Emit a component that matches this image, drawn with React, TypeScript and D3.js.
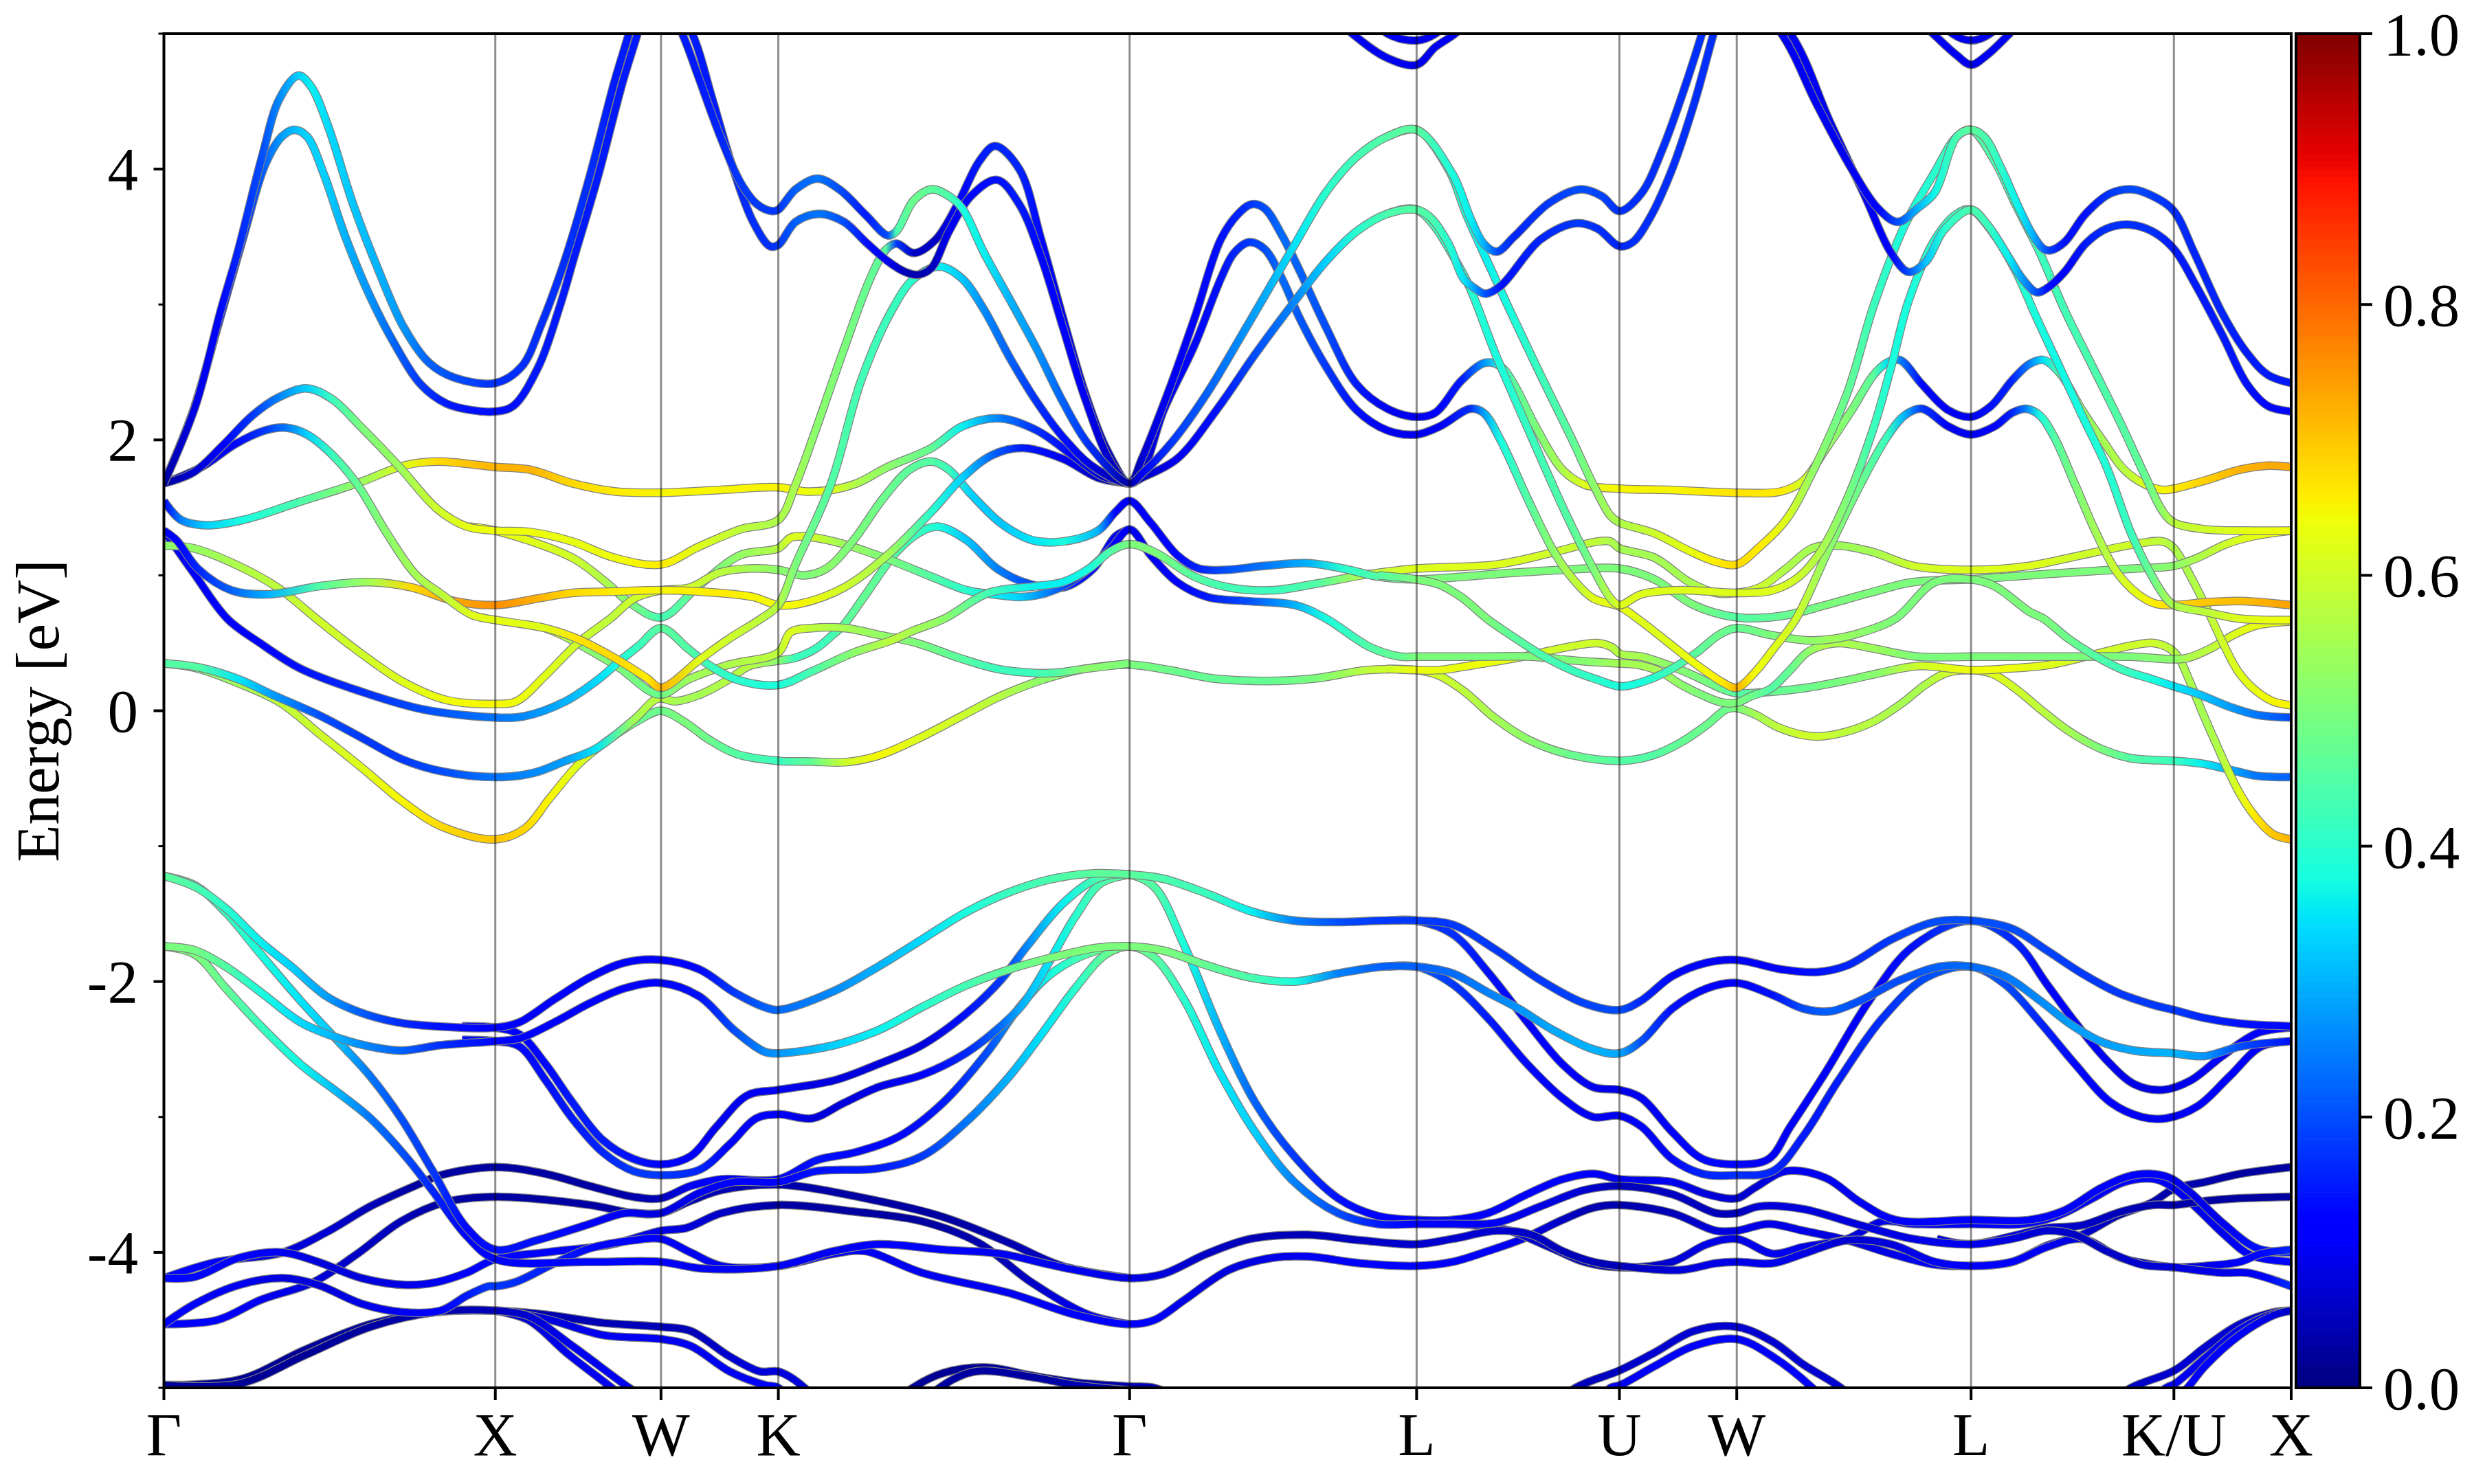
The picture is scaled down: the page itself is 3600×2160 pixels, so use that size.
import * as d3 from "d3";
import * as React from "react";

type P = [number, number, number]; // k, energy [eV], weight

const WIDTH = 3600;
const HEIGHT = 2160;
const MARGIN = { top: 49, left: 238.5, right: 3334, bottom: 2020 };
const FONT = "'Liberation Serif', 'Times New Roman', serif";

const symLabels = ["Γ", "X", "W", "K", "Γ", "L", "U", "W", "L", "K/U", "X"];
const symK = [0, 1, 1.5, 1.854, 2.914, 3.78, 4.392, 4.746, 5.453, 6.065, 6.419];
const energyTicks = [-5, -4, -3, -2, -1, 0, 1, 2, 3, 4, 5];
const colorTicks = [0, 0.2, 0.4, 0.6, 0.8, 1];

// conduction bands, traced left to right
const top1: P[] = [[0,1.68,.03],[.095,2.25,.09],[.172,2.96,.13],[.222,3.38,.16],[.296,4.09,.2],[.349,4.52,.26],[.406,4.69,.33],[.444,4.61,.36],[.495,4.32,.34],[.571,3.74,.32],[.648,3.25,.3],[.724,2.83,.27],[.8,2.57,.22],[.876,2.46,.2],[1,2.42,.17],[1.079,2.54,.17],[1.14,2.86,.17],[1.213,3.35,.17],[1.283,3.93,.17],[1.359,4.64,.15],[1.403,5,.15],[1.46,5.5,.15],[1.564,5,.15],[1.613,4.68,.15],[1.676,4.26,.16],[1.74,3.9,.18],[1.79,3.74,.18],[1.835,3.69,.18],[1.854,3.7,.18],[1.906,3.85,.22],[1.972,3.93,.24],[2.038,3.85,.2],[2.118,3.66,.15],[2.184,3.51,.2],[2.21,3.54,.44],[2.263,3.77,.48],[2.316,3.85,.46],[2.369,3.8,.44],[2.409,3.71,.38],[2.475,3.38,.36],[2.554,3.03,.3],[2.634,2.67,.27],[2.713,2.28,.22],[2.792,1.96,.17],[2.914,1.68,.03],[2.951,1.75,.1],[3.044,1.99,.18],[3.149,2.35,.22],[3.242,2.73,.26],[3.335,3.12,.3],[3.414,3.45,.35],[3.507,3.83,.4],[3.599,4.09,.43],[3.692,4.24,.45],[3.78,4.29,.46],[3.889,3.96,.38],[3.942,3.64,.36],[3.982,3.45,.3],[4.022,3.39,.2],[4.074,3.5,.16],[4.18,3.75,.18],[4.273,3.85,.2],[4.339,3.8,.19],[4.392,3.69,.17],[4.458,3.82,.17],[4.524,4.16,.17],[4.59,4.61,.17],[4.641,5,.17],[4.7,5.5,.1],[4.881,5,.1],[4.987,4.48,.1],[5.093,4,.1],[5.172,3.71,.12],[5.232,3.61,.2],[5.291,3.71,.3],[5.344,3.83,.37],[5.41,4.24,.44],[5.453,4.29,.46],[5.492,4.24,.44],[5.545,4,.4],[5.598,3.71,.36],[5.64,3.51,.3],[5.672,3.41,.22],[5.693,3.4,.18],[5.735,3.46,.14],[5.799,3.67,.14],[5.873,3.82,.18],[5.942,3.85,.2],[6.01,3.79,.18],[6.065,3.69,.17],[6.127,3.38,.16],[6.212,2.93,.16],[6.286,2.64,.15],[6.349,2.48,.15],[6.419,2.42,.15]];
const top2: P[] = [[0,1.68,.03],[.089,2.22,.08],[.165,2.86,.13],[.241,3.51,.17],[.305,4.03,.22],[.356,4.24,.28],[.394,4.29,.31],[.432,4.24,.33],[.483,3.96,.33],[.546,3.51,.3],[.622,3.06,.27],[.698,2.7,.22],[.775,2.41,.18],[.851,2.27,.15],[.927,2.22,.14],[1,2.21,.14],[1.054,2.25,.14],[1.13,2.54,.15],[1.195,2.99,.15],[1.238,3.35,.15],[1.308,3.93,.15],[1.384,4.64,.15],[1.429,5,.15],[1.48,5.45,.15],[1.594,5,.15],[1.651,4.55,.15],[1.714,4.03,.16],[1.778,3.61,.17],[1.829,3.43,.17],[1.854,3.44,.18],[1.906,3.61,.22],[1.979,3.67,.24],[2.052,3.61,.2],[2.118,3.46,.14],[2.184,3.32,.1],[2.237,3.24,.05],[2.276,3.22,.04],[2.316,3.27,.05],[2.369,3.54,.1],[2.435,3.8,.13],[2.514,3.92,.14],[2.581,3.74,.15],[2.647,3.35,.13],[2.713,2.83,.12],[2.779,2.31,.1],[2.858,1.83,.06],[2.914,1.68,.03],[2.951,1.72,.06],[3.057,1.86,.1],[3.176,2.22,.14],[3.295,2.64,.2],[3.414,3.03,.26],[3.507,3.32,.33],[3.599,3.54,.4],[3.692,3.67,.44],[3.78,3.7,.45],[3.823,3.64,.44],[3.876,3.45,.4],[3.922,3.19,.35],[3.955,3.12,.28],[3.988,3.08,.2],[4.035,3.14,.14],[4.154,3.48,.16],[4.26,3.6,.18],[4.326,3.56,.17],[4.392,3.43,.16],[4.432,3.46,.17],[4.484,3.64,.17],[4.551,4,.17],[4.617,4.48,.17],[4.676,5,.17],[4.73,5.45,.1],[4.908,5,.1],[5.027,4.35,.1],[5.133,3.8,.1],[5.212,3.38,.12],[5.265,3.24,.2],[5.318,3.32,.32],[5.371,3.55,.4],[5.453,3.7,.44],[5.502,3.59,.42],[5.566,3.35,.36],[5.608,3.19,.28],[5.651,3.09,.2],[5.682,3.12,.14],[5.735,3.24,.12],[5.799,3.45,.15],[5.862,3.56,.17],[5.931,3.59,.17],[6,3.54,.17],[6.065,3.41,.15],[6.127,3.16,.15],[6.212,2.77,.15],[6.286,2.41,.14],[6.349,2.25,.13],[6.419,2.21,.13]];
const mid1: P[] = [[0,1.68,.03],[.089,1.76,.07],[.178,1.96,.12],[.267,2.18,.18],[.343,2.31,.25],[.432,2.38,.33],[.508,2.3,.42],[.597,2.09,.5],[.711,1.8,.54],[.825,1.49,.6],[.914,1.36,.63],[1,1.33,.64],[1.105,1.32,.64],[1.232,1.25,.63],[1.359,1.13,.64],[1.5,1.08,.66],[1.613,1.21,.62],[1.74,1.34,.58],[1.854,1.41,.56],[1.906,1.67,.55],[1.959,2.02,.52],[2.052,2.67,.5],[2.131,3.19,.47],[2.177,3.4,.46],[2.21,3.45,.18],[2.263,3.38,.06],[2.329,3.48,.06],[2.395,3.74,.12],[2.461,4.06,.15],[2.508,4.17,.16],[2.581,4,.16],[2.647,3.48,.13],[2.713,2.9,.1],[2.779,2.35,.08],[2.845,1.93,.06],[2.914,1.68,.03],[2.951,1.86,.07],[3.03,2.35,.1],[3.11,2.9,.12],[3.189,3.48,.14],[3.242,3.67,.16],[3.282,3.74,.18],[3.321,3.71,.2],[3.374,3.51,.23],[3.427,3.25,.22],[3.507,2.83,.2],[3.599,2.41,.15],[3.692,2.23,.1],[3.78,2.17,.1],[3.836,2.2,.11],[3.916,2.44,.15],[3.988,2.57,.28],[4.035,2.54,.4],[4.074,2.41,.46],[4.141,2.09,.5],[4.22,1.78,.56],[4.286,1.67,.62],[4.392,1.64,.65],[4.551,1.63,.65],[4.746,1.61,.67],[4.881,1.62,.66],[4.947,1.7,.6],[5.014,1.93,.54],[5.093,2.22,.5],[5.159,2.48,.46],[5.199,2.57,.35],[5.238,2.59,.25],[5.305,2.41,.13],[5.384,2.22,.1],[5.453,2.17,.1],[5.513,2.25,.14],[5.577,2.44,.16],[5.629,2.56,.25],[5.672,2.59,.35],[5.725,2.48,.47],[5.788,2.22,.52],[5.852,1.99,.55],[5.915,1.78,.57],[5.979,1.67,.62],[6.032,1.63,.65],[6.065,1.64,.66],[6.159,1.7,.69],[6.264,1.78,.72],[6.349,1.81,.73],[6.419,1.8,.73]];
const mid2: P[] = [[0,1.68,.03],[.114,1.8,.08],[.216,1.97,.13],[.305,2.07,.18],[.368,2.09,.24],[.432,2.04,.33],[.508,1.89,.42],[.584,1.67,.47],[.673,1.31,.52],[.762,1,.55],[.838,.86,.58],[.927,.71,.62],[1,.67,.63],[1.151,.61,.62],[1.249,.53,.67],[1.36,.39,.68],[1.458,.24,.66],[1.5,.17,.72],[1.618,.38,.62],[1.704,.53,.6],[1.802,.68,.58],[1.854,.78,.57],[1.906,1.08,.5],[2.012,1.67,.45],[2.104,2.44,.43],[2.197,2.96,.42],[2.263,3.19,.4],[2.342,3.28,.36],[2.409,3.19,.32],[2.475,2.96,.26],[2.554,2.6,.22],[2.634,2.28,.17],[2.713,2.02,.14],[2.805,1.8,.08],[2.914,1.68,.03],[2.951,1.76,.06],[3.017,2.22,.1],[3.11,2.7,.13],[3.189,3.19,.14],[3.229,3.38,.16],[3.275,3.46,.18],[3.321,3.41,.2],[3.374,3.19,.23],[3.427,2.9,.21],[3.507,2.54,.18],[3.599,2.22,.14],[3.692,2.07,.1],[3.78,2.04,.1],[3.85,2.1,.1],[3.942,2.23,.17],[3.982,2.2,.28],[4.035,1.99,.38],[4.114,1.57,.45],[4.193,1.18,.52],[4.246,.99,.57],[4.313,.83,.62],[4.392,.77,.64],[4.447,.68,.62],[4.536,.51,.62],[4.625,.34,.64],[4.703,.21,.66],[4.746,.17,.72],[4.803,.29,.64],[4.858,.46,.62],[4.925,.68,.6],[5.027,1.21,.52],[5.119,1.67,.48],[5.199,2.02,.42],[5.252,2.18,.3],[5.305,2.23,.18],[5.384,2.1,.1],[5.453,2.04,.1],[5.524,2.1,.12],[5.577,2.2,.16],[5.619,2.23,.25],[5.661,2.18,.38],[5.704,2.02,.45],[5.767,1.67,.5],[5.831,1.31,.55],[5.894,1.02,.6],[5.957,.86,.63],[6.01,.79,.66],[6.065,.78,.68],[6.159,.8,.7],[6.264,.81,.71],[6.419,.78,.74]];
const flat1: P[] = [[0,1.55,.12],[.051,1.41,.25],[.127,1.37,.33],[.241,1.41,.38],[.406,1.54,.44],[.584,1.68,.53],[.724,1.81,.62],[.825,1.84,.68],[1,1.8,.72],[1.105,1.78,.72],[1.232,1.68,.68],[1.359,1.62,.66],[1.5,1.61,.65],[1.676,1.63,.65],[1.854,1.65,.65],[1.932,1.62,.64],[2.012,1.63,.62],[2.091,1.68,.56],[2.184,1.8,.52],[2.316,1.94,.47],[2.409,2.1,.36],[2.521,2.16,.25],[2.634,2.07,.17],[2.739,1.89,.12],[2.832,1.73,.07],[2.914,1.68,.03]];
const flat2: P[] = [[0,1.33,.1],[.038,1.26,.12],[.102,1.05,.16],[.203,.89,.22],[.317,.86,.3],[.47,.92,.45],[.622,.95,.55],[.749,.91,.68],[.876,.81,.73],[1,.78,.76],[1.13,.83,.72],[1.232,.87,.68],[1.359,.88,.66],[1.5,.89,.65],[1.676,.87,.66],[1.778,.84,.65],[1.854,.78,.64],[1.919,.79,.65],[2.052,.91,.6],[2.184,1.15,.55],[2.316,1.47,.4],[2.409,1.72,.33],[2.501,1.89,.22],[2.594,1.94,.15],[2.713,1.86,.1],[2.819,1.72,.06],[2.914,1.68,.03]];
const low1: P[] = [[0,1.22,.52],[.089,1.2,.53],[.216,1.08,.56],[.343,.91,.58],[.47,.66,.6],[.597,.42,.6],[.724,.21,.62],[.851,.08,.64],[1,.05,.65],[1.064,.07,.64],[1.151,.26,.62],[1.249,.5,.6],[1.347,.68,.58],[1.42,.83,.6],[1.5,.89,.62],[1.587,.91,.6],[1.676,1.02,.58],[1.765,1.05,.55],[1.854,1.04,.52],[1.932,1,.5],[1.999,1.05,.52],[2.078,1.25,.5],[2.171,1.57,.48],[2.25,1.78,.46],[2.316,1.84,.45],[2.369,1.78,.42],[2.435,1.6,.33],[2.528,1.38,.32],[2.62,1.26,.35],[2.713,1.25,.38],[2.819,1.33,.3],[2.872,1.47,.12],[2.914,1.55,.1],[2.977,1.39,.12],[3.057,1.15,.13],[3.123,1.05,.16],[3.202,1.04,.2],[3.321,1.07,.24],[3.453,1.09,.3],[3.559,1.05,.4],[3.665,.99,.45],[3.78,.97,.5],[4.022,1.01,.5],[4.22,1.04,.5],[4.392,1.05,.5],[4.498,.97,.5],[4.617,.78,.5],[4.746,.69,.45],[4.881,.7,.47],[5.014,.78,.5],[5.146,.87,.5],[5.278,.95,.5],[5.453,.97,.5],[5.682,1.01,.5],[5.947,1.05,.5],[6.065,1.07,.52],[6.137,1.13,.56],[6.222,1.23,.6],[6.307,1.29,.63],[6.419,1.33,.64]];
const low2: P[] = [[0,1.33,.1],[.089,1.02,.12],[.191,.68,.11],[.29,.5,.12],[.413,.31,.14],[.597,.14,.17],[.782,.01,.2],[1,-.05,.24],[1.089,-.04,.26],[1.212,.07,.3],[1.31,.23,.34],[1.372,.36,.38],[1.433,.48,.42],[1.5,.61,.46],[1.581,.46,.45],[1.643,.34,.42],[1.729,.23,.4],[1.854,.19,.38],[1.955,.29,.44],[2.082,.43,.52],[2.196,.52,.58],[2.26,.59,.55],[2.355,.68,.52],[2.488,.87,.43],[2.634,.92,.36],[2.713,.95,.36],[2.792,1.05,.38],[2.858,1.18,.45],[2.914,1.23,.5],[2.99,1.17,.5],[3.11,.99,.45],[3.215,.91,.43],[3.348,.89,.42],[3.48,.94,.45],[3.639,1.01,.58],[3.78,1.05,.62],[4.022,1.08,.62],[4.193,1.17,.6],[4.326,1.25,.58],[4.365,1.25,.56],[4.392,1.2,.55],[4.498,1.13,.55],[4.603,.95,.55],[4.683,.87,.58],[4.746,.87,.6],[4.815,.91,.6],[4.895,1.05,.56],[4.974,1.2,.55],[5.053,1.22,.54],[5.159,1.17,.55],[5.278,1.07,.6],[5.453,1.04,.62],[5.629,1.07,.62],[5.788,1.15,.6],[5.947,1.23,.6],[6.032,1.25,.58],[6.065,1.2,.56],[6.116,.99,.56],[6.169,.73,.58],[6.211,.51,.6],[6.259,.29,.62],[6.307,.16,.63],[6.363,.07,.65],[6.419,.04,.65]];
const low3: P[] = [[.92,1.36,.63],[1,1.33,.64],[1.232,1.13,.6],[1.333,.95,.56],[1.41,.79,.5],[1.5,.69,.43],[1.613,.92,.48],[1.74,1.15,.53],[1.854,1.2,.57],[1.893,1.28,.62],[1.959,1.28,.6],[2.052,1.23,.54],[2.184,1.12,.5],[2.316,.99,.45],[2.422,.89,.4],[2.501,.86,.36],[2.581,.84,.33],[2.647,.86,.27],[2.713,.92,.2],[2.792,1.05,.13],[2.858,1.2,.12],[2.914,1.34,.1],[2.977,1.15,.1],[3.057,.95,.11],[3.149,.84,.15],[3.268,.81,.2],[3.414,.78,.3],[3.507,.68,.38],[3.639,.47,.45],[3.731,.4,.47],[3.78,.4,.5],[3.958,.4,.5],[4.125,.4,.5],[4.214,.38,.5],[4.314,.36,.52],[4.392,.35,.55],[4.447,.34,.55],[4.514,.29,.55],[4.58,.19,.52],[4.647,.11,.5],[4.703,.06,.5],[4.746,.06,.5],[4.792,.11,.48],[4.847,.16,.45],[4.903,.29,.47],[4.958,.43,.52],[5.003,.48,.56],[5.058,.5,.56],[5.158,.46,.54],[5.292,.4,.5],[5.453,.4,.5],[5.623,.4,.5],[5.796,.4,.5],[5.934,.4,.5],[6.065,.38,.52],[6.107,.39,.56],[6.176,.46,.58],[6.245,.56,.62],[6.314,.63,.63],[6.419,.66,.64]];
const edge1: P[] = [[0,.35,.45],[.105,.32,.45],[.228,.23,.35],[.326,.12,.28],[.474,-.04,.2],[.597,-.2,.18],[.72,-.36,.18],[.843,-.45,.2],[1,-.49,.24],[1.114,-.46,.26],[1.212,-.37,.28],[1.304,-.28,.35],[1.421,-.06,.55],[1.49,.09,.58],[1.544,.07,.55],[1.618,.12,.55],[1.704,.23,.57],[1.766,.33,.57],[1.854,.37,.52],[1.904,.39,.42],[1.968,.46,.42],[2.018,.56,.43],[2.05,.63,.46],[2.118,.86,.47],[2.21,1.17,.45],[2.276,1.31,.42],[2.336,1.36,.38],[2.422,1.26,.32],[2.514,1.05,.25],[2.607,.94,.2],[2.713,.91,.17],[2.805,1.05,.13],[2.872,1.29,.1],[2.914,1.34,.1]];
const edge2: P[] = [[0,.35,.45],[.105,.31,.5],[.228,.2,.55],[.351,.06,.58],[.474,-.18,.6],[.597,-.42,.62],[.72,-.67,.65],[.843,-.86,.68],[1,-.95,.7],[1.089,-.87,.68],[1.163,-.65,.65],[1.249,-.4,.62],[1.317,-.26,.58],[1.433,-.07,.48],[1.5,0,.48],[1.569,-.08,.5],[1.643,-.21,.48],[1.729,-.32,.45],[1.854,-.37,.42],[1.955,-.375,.47],[2.056,-.38,.6],[2.158,-.33,.65],[2.272,-.21,.62],[2.399,-.05,.6],[2.526,.11,.57],[2.653,.23,.52],[2.78,.31,.52],[2.914,.34,.5],[3.034,.3,.48],[3.161,.24,.47],[3.326,.22,.47],[3.478,.24,.5],[3.63,.3,.58],[3.78,.3,.63],[3.847,.26,.6],[3.925,.14,.58],[4.014,-.05,.55],[4.114,-.21,.52],[4.236,-.32,.48],[4.394,-.37,.45],[4.492,-.33,.45],[4.58,-.23,.47],[4.658,-.1,.48],[4.714,.01,.48],[4.746,.02,.5],[4.803,-.03,.55],[4.869,-.12,.58],[4.947,-.18,.6],[4.992,-.19,.6],[5.069,-.16,.58],[5.158,-.08,.57],[5.247,.06,.55],[5.314,.19,.56],[5.38,.28,.6],[5.453,.3,.62],[5.52,.27,.62],[5.589,.16,.6],[5.658,.02,.58],[5.748,-.15,.55],[5.844,-.28,.5],[5.934,-.35,.45],[6.065,-.37,.42],[6.149,-.39,.36],[6.225,-.43,.3],[6.314,-.48,.24],[6.419,-.49,.22]];
const edge3: P[] = [[1.15,.61,.62],[1.2,.56,.58],[1.261,.48,.52],[1.372,.32,.5],[1.495,.12,.48],[1.581,.23,.54],[1.704,.34,.56],[1.854,.43,.58],[1.891,.58,.62],[1.955,.61,.58],[2.056,.61,.55],[2.158,.56,.53],[2.272,.5,.5],[2.399,.39,.46],[2.513,.31,.42],[2.615,.28,.42],[2.691,.28,.45],[2.78,.31,.52],[2.914,.35,.5]];
const fall1: P[] = [[3.692,4.24,.45],[3.78,4.29,.46],[3.876,4,.42],[3.929,3.67,.38],[3.982,3.38,.36],[4.061,2.96,.38],[4.154,2.48,.42],[4.246,2.02,.46],[4.313,1.67,.52],[4.365,1.44,.55],[4.392,1.39,.56],[4.498,1.31,.6],[4.603,1.18,.63],[4.683,1.1,.66],[4.746,1.08,.68],[4.815,1.21,.66],[4.895,1.41,.62],[4.974,1.76,.53],[5.08,2.35,.47],[5.159,2.99,.42],[5.252,3.58,.38],[5.344,3.98,.4],[5.41,4.24,.44],[5.453,4.29,.46],[5.524,4.06,.44],[5.587,3.74,.43],[5.661,3.38,.42],[5.735,2.96,.43],[5.82,2.54,.44],[5.905,2.12,.45],[5.979,1.73,.47],[6.032,1.47,.53],[6.065,1.39,.58],[6.159,1.34,.6],[6.286,1.33,.63],[6.419,1.33,.64]];
const fall2: P[] = [[3.692,3.67,.44],[3.78,3.7,.45],[3.915,3.25,.4],[4.022,2.61,.38],[4.127,2.02,.42],[4.233,1.44,.45],[4.313,1.05,.5],[4.365,.83,.58],[4.392,.78,.62],[4.458,.86,.62],[4.577,.89,.62],[4.746,.87,.62],[4.855,.89,.62],[4.934,.99,.6],[5,1.18,.56],[5.08,1.57,.5],[5.159,2.09,.42],[5.212,2.54,.38],[5.265,3.03,.38],[5.344,3.48,.4],[5.41,3.67,.43],[5.453,3.7,.45],[5.524,3.51,.42],[5.587,3.25,.4],[5.651,2.9,.38],[5.714,2.57,.37],[5.788,2.18,.38],[5.862,1.8,.39],[5.936,1.31,.42],[6,.99,.48],[6.042,.83,.54],[6.065,.78,.56],[6.159,.73,.58],[6.264,.68,.62],[6.419,.67,.64]];
const fall3: P[] = [[3.665,1,.45],[3.78,.97,.5],[3.85,.93,.5],[3.92,.83,.5],[3.992,.68,.5],[4.069,.55,.46],[4.158,.41,.44],[4.247,.3,.42],[4.325,.23,.4],[4.394,.18,.38],[4.458,.21,.38],[4.536,.29,.42],[4.625,.43,.46],[4.692,.56,.48],[4.746,.61,.47],[4.847,.56,.5],[4.958,.52,.52],[5.036,.53,.54],[5.125,.58,.52],[5.225,.68,.5],[5.344,.95,.5],[5.453,.97,.5],[5.524,.92,.5],[5.63,.73,.5],[5.672,.68,.5],[5.748,.53,.48],[5.831,.4,.45],[5.913,.3,.42],[6.003,.23,.38],[6.065,.18,.35],[6.142,.12,.32],[6.232,.03,.28],[6.314,-.03,.24],[6.419,-.05,.2]];
const hump1: P[] = [[3.692,.31,.6],[3.78,.3,.64],[3.847,.3,.63],[3.958,.34,.64],[4.103,.4,.62],[4.214,.46,.6],[4.325,.5,.6],[4.369,.47,.58],[4.394,.42,.56],[4.458,.4,.55],[4.536,.34,.52],[4.625,.25,.5],[4.703,.16,.48],[4.746,.13,.45],[4.847,.14,.47],[4.958,.17,.48],[5.069,.22,.5],[5.18,.28,.52],[5.292,.33,.6],[5.453,.3,.64],[5.554,.31,.64],[5.692,.34,.62],[5.831,.42,.6],[5.934,.48,.6],[6.003,.5,.6],[6.052,.46,.58],[6.08,.39,.56],[6.114,.21,.56],[6.149,0,.55],[6.19,-.23,.56],[6.225,-.42,.58],[6.259,-.59,.62],[6.307,-.77,.66],[6.363,-.91,.7],[6.419,-.95,.72]];

// valence bands
const val1: P[] = [[0,-1.22,.46],[.094,-1.3,.44],[.187,-1.46,.4],[.293,-1.71,.36],[.385,-1.89,.33],[.491,-2.11,.28],[.584,-2.22,.22],[.703,-2.3,.17],[.822,-2.33,.14],[1,-2.34,.12],[1.073,-2.3,.12],[1.179,-2.13,.12],[1.285,-1.97,.12],[1.39,-1.86,.11],[1.5,-1.84,.11],[1.616,-1.91,.13],[1.721,-2.08,.18],[1.814,-2.19,.22],[1.854,-2.21,.23],[2.022,-2.07,.26],[2.155,-1.89,.3],[2.287,-1.69,.34],[2.419,-1.49,.38],[2.551,-1.34,.42],[2.684,-1.24,.44],[2.816,-1.2,.46],[2.914,-1.21,.46],[3.014,-1.24,.44],[3.147,-1.35,.42],[3.279,-1.48,.36],[3.411,-1.55,.25],[3.543,-1.56,.2],[3.676,-1.55,.18],[3.78,-1.55,.18],[3.889,-1.58,.18],[4.022,-1.77,.18],[4.154,-1.99,.18],[4.286,-2.16,.19],[4.392,-2.21,.2],[4.458,-2.14,.16],[4.551,-1.96,.13],[4.656,-1.86,.11],[4.746,-1.84,.1],[4.881,-1.91,.12],[4.987,-1.93,.14],[5.08,-1.88,.16],[5.212,-1.69,.18],[5.344,-1.56,.2],[5.453,-1.55,.2],[5.577,-1.61,.2],[5.682,-1.77,.19],[5.788,-1.94,.18],[5.894,-2.08,.18],[6,-2.17,.18],[6.065,-2.21,.18],[6.159,-2.27,.16],[6.264,-2.31,.14],[6.419,-2.33,.13]];
const val2: P[] = [[0,-1.74,.5],[.094,-1.77,.49],[.187,-1.89,.45],[.293,-2.08,.38],[.412,-2.3,.34],[.518,-2.41,.3],[.623,-2.48,.25],[.716,-2.51,.22],[.835,-2.47,.17],[1,-2.44,.13],[1.073,-2.42,.12],[1.179,-2.3,.12],[1.285,-2.16,.12],[1.39,-2.05,.12],[1.5,-2.01,.12],[1.616,-2.11,.14],[1.721,-2.36,.2],[1.814,-2.52,.26],[1.854,-2.53,.27],[2.022,-2.47,.33],[2.155,-2.36,.36],[2.287,-2.19,.4],[2.419,-2.03,.43],[2.551,-1.91,.47],[2.684,-1.82,.5],[2.816,-1.75,.5],[2.914,-1.74,.5],[3.014,-1.77,.5],[3.147,-1.88,.47],[3.279,-1.97,.44],[3.411,-2,.38],[3.543,-1.94,.25],[3.676,-1.89,.22],[3.78,-1.89,.22],[3.889,-1.94,.23],[3.995,-2.08,.25],[4.088,-2.2,.27],[4.193,-2.36,.29],[4.313,-2.5,.3],[4.392,-2.53,.29],[4.458,-2.44,.2],[4.551,-2.2,.14],[4.656,-2.05,.12],[4.746,-2.01,.11],[4.855,-2.1,.14],[4.947,-2.2,.2],[5.027,-2.22,.22],[5.119,-2.14,.2],[5.238,-1.99,.2],[5.358,-1.89,.22],[5.453,-1.89,.23],[5.555,-1.96,.24],[5.661,-2.14,.26],[5.756,-2.32,.28],[5.852,-2.45,.28],[5.947,-2.51,.29],[6.065,-2.53,.3],[6.159,-2.55,.27],[6.264,-2.48,.2],[6.419,-2.44,.14]];
const val3: P[] = [[0,-1.22,.46],[.094,-1.29,.44],[.187,-1.49,.42],[.293,-1.8,.38],[.412,-2.14,.35],[.518,-2.42,.32],[.623,-2.7,.24],[.716,-3.01,.2],[.809,-3.39,.18],[.914,-3.82,.13],[1,-3.98,.14],[1.126,-3.91,.14],[1.285,-3.79,.12],[1.39,-3.71,.1],[1.5,-3.71,.08],[1.616,-3.56,.1],[1.721,-3.48,.12],[1.854,-3.48,.12],[1.969,-3.4,.14],[2.155,-3.38,.15],[2.287,-3.29,.18],[2.419,-3.04,.24],[2.551,-2.7,.3],[2.657,-2.36,.35],[2.75,-2.05,.4],[2.842,-1.8,.47],[2.914,-1.74,.5],[2.988,-1.82,.46],[3.08,-2.14,.4],[3.186,-2.67,.35],[3.292,-3.11,.33],[3.411,-3.48,.25],[3.543,-3.71,.2],[3.662,-3.79,.15],[3.78,-3.79,.11],[3.889,-3.79,.11],[4.022,-3.78,.1],[4.154,-3.66,.09],[4.286,-3.54,.07],[4.392,-3.51,.05],[4.551,-3.57,.06],[4.683,-3.71,.05],[4.746,-3.71,.05],[4.815,-3.66,.08],[4.947,-3.68,.08],[5.106,-3.79,.08],[5.278,-3.9,.09],[5.453,-3.94,.1],[5.577,-3.9,.08],[5.682,-3.84,.07],[5.767,-3.87,.06],[5.862,-3.99,.06],[5.968,-4.09,.07],[6.065,-4.11,.08],[6.211,-4.15,.09],[6.286,-4.15,.1],[6.349,-4.19,.13],[6.419,-4.25,.17]];
const val4: P[] = [[0,-1.74,.5],[.094,-1.8,.5],[.187,-2.05,.47],[.293,-2.33,.42],[.412,-2.61,.37],[.531,-2.83,.3],[.623,-3.01,.24],[.729,-3.29,.2],[.809,-3.54,.16],[.914,-3.88,.12],[1,-4.05,.12],[1.285,-4.07,.13],[1.5,-4.07,.12],[1.629,-4.12,.1],[1.854,-4.1,.1],[2.022,-3.99,.1],[2.155,-3.94,.12],[2.353,-3.98,.11],[2.525,-4.01,.1],[2.71,-4.11,.1],[2.914,-4.19,.09],[3.014,-4.16,.08],[3.147,-4.01,.06],[3.279,-3.9,.05],[3.451,-3.87,.05],[3.61,-3.91,.06],[3.78,-3.94,.07],[3.889,-3.9,.07],[4.022,-3.84,.07],[4.127,-3.87,.06],[4.22,-3.99,.05],[4.313,-4.07,.05],[4.392,-4.1,.05],[4.577,-4.13,.08],[4.683,-4.08,.09],[4.746,-4.07,.09],[4.855,-4.08,.1],[4.947,-4.01,.09],[5.08,-3.91,.07],[5.212,-3.94,.08],[5.344,-4.07,.1],[5.453,-4.1,.12],[5.577,-4.07,.12],[5.682,-3.96,.1],[5.788,-3.9,.08],[5.905,-4.04,.06],[6,-4.09,.07],[6.065,-4.11,.08],[6.159,-4.1,.09],[6.264,-4.07,.11],[6.328,-4.01,.13],[6.419,-3.98,.16]];
const val5: P[] = [[.9,-2.33,.12],[1,-2.34,.12],[1.073,-2.39,.12],[1.152,-2.61,.13],[1.232,-2.89,.15],[1.324,-3.17,.15],[1.417,-3.31,.14],[1.5,-3.35,.13],[1.589,-3.29,.11],[1.668,-3.07,.1],[1.761,-2.84,.1],[1.854,-2.8,.1],[2.022,-2.73,.08],[2.155,-2.61,.08],[2.287,-2.47,.08],[2.419,-2.24,.14],[2.525,-1.99,.18],[2.604,-1.74,.26],[2.71,-1.43,.36],[2.816,-1.24,.44],[2.914,-1.21,.46],[2.988,-1.3,.45],[3.08,-1.74,.38],[3.186,-2.36,.3],[3.292,-2.89,.22],[3.411,-3.29,.18],[3.543,-3.6,.14],[3.662,-3.73,.12],[3.78,-3.76,.12],[3.889,-3.76,.11],[3.995,-3.71,.11],[4.114,-3.57,.12],[4.22,-3.46,.12],[4.313,-3.42,.11],[4.392,-3.46,.09],[4.551,-3.48,.1],[4.656,-3.57,.08],[4.746,-3.6,.07],[4.802,-3.52,.07],[4.895,-3.4,.1],[5.014,-3.45,.1],[5.119,-3.63,.1],[5.225,-3.76,.11],[5.453,-3.76,.12],[5.629,-3.76,.12],[5.735,-3.69,.11],[5.841,-3.53,.11],[5.926,-3.44,.11],[5.989,-3.42,.11],[6.053,-3.45,.1],[6.116,-3.56,.09],[6.211,-3.78,.1],[6.317,-3.97,.14],[6.419,-4,.16]];
const val6: P[] = [[.9,-2.43,.13],[1,-2.44,.14],[1.073,-2.48,.13],[1.152,-2.73,.14],[1.232,-3.01,.15],[1.324,-3.26,.16],[1.417,-3.4,.18],[1.5,-3.43,.18],[1.616,-3.39,.16],[1.708,-3.2,.12],[1.787,-3.01,.11],[1.854,-2.98,.11],[1.956,-3.01,.08],[2.049,-2.9,.08],[2.155,-2.78,.09],[2.287,-2.69,.11],[2.419,-2.53,.16],[2.525,-2.33,.23],[2.591,-2.17,.3],[2.67,-1.86,.35],[2.75,-1.52,.4],[2.829,-1.27,.44],[2.914,-1.21,.46]];
const val7: P[] = [[3.692,-1.55,.18],[3.78,-1.55,.18],[3.889,-1.65,.17],[3.995,-1.93,.14],[4.114,-2.3,.12],[4.22,-2.61,.11],[4.313,-2.78,.1],[4.392,-2.8,.09],[4.458,-2.86,.1],[4.551,-3.11,.12],[4.643,-3.31,.13],[4.746,-3.35,.13],[4.842,-3.31,.1],[4.908,-3.07,.11],[5.014,-2.67,.11],[5.146,-2.14,.12],[5.278,-1.74,.14],[5.453,-1.55,.2],[5.587,-1.71,.16],[5.682,-2.02,.12],[5.767,-2.3,.11],[5.862,-2.58,.1],[5.947,-2.76,.09],[6.032,-2.8,.09],[6.116,-2.73,.1],[6.211,-2.55,.11],[6.317,-2.38,.12],[6.419,-2.34,.12]];
const val8: P[] = [[3.692,-1.89,.22],[3.78,-1.89,.22],[3.889,-2.02,.18],[3.995,-2.27,.15],[4.114,-2.61,.13],[4.22,-2.86,.11],[4.313,-3,.1],[4.392,-2.99,.1],[4.458,-3.07,.11],[4.551,-3.31,.13],[4.643,-3.42,.16],[4.746,-3.43,.17],[4.855,-3.4,.16],[4.947,-3.14,.15],[5.053,-2.73,.15],[5.186,-2.27,.17],[5.318,-1.97,.2],[5.453,-1.89,.22],[5.555,-2.02,.2],[5.661,-2.3,.16],[5.767,-2.61,.13],[5.873,-2.89,.11],[5.968,-3,.1],[6.042,-3.01,.1],[6.137,-2.92,.11],[6.233,-2.7,.11],[6.328,-2.48,.12],[6.419,-2.44,.12]];
const deep1: P[] = [[0,-4.19,.13],[.16,-4.07,.12],[.359,-4,.08],[.491,-3.85,.07],[.623,-3.66,.05],[.756,-3.51,.03],[.835,-3.43,.03],[1,-3.37,.03],[1.152,-3.42,.03],[1.285,-3.51,.03],[1.417,-3.59,.04],[1.5,-3.6,.05],[1.589,-3.51,.1],[1.682,-3.46,.12],[1.854,-3.46,.12],[1.969,-3.32,.14],[2.088,-3.26,.13],[2.221,-3.14,.13],[2.353,-2.89,.15],[2.485,-2.52,.2],[2.578,-2.2,.28],[2.684,-1.93,.38],[2.816,-1.77,.47],[2.914,-1.74,.5]];
const deep2: P[] = [[0,-4.53,.11],[.16,-4.5,.11],[.293,-4.35,.1],[.451,-4.22,.08],[.584,-4.01,.06],[.716,-3.77,.05],[.848,-3.63,.03],[1,-3.59,.03],[1.285,-3.65,.03],[1.417,-3.71,.04],[1.5,-3.71,.04],[1.589,-3.62,.05],[1.682,-3.54,.05],[1.854,-3.5,.04],[2.155,-3.62,.03],[2.353,-3.74,.03],[2.551,-3.93,.04],[2.71,-4.1,.06],[2.914,-4.19,.09]];
const deep3: P[] = [[0,-4.19,.13],[.094,-4.18,.13],[.227,-4.04,.11],[.359,-4,.1],[.465,-4.07,.08],[.597,-4.19,.08],[.729,-4.24,.09],[.822,-4.22,.1],[.914,-4.15,.11],[1,-4.05,.13],[1.152,-4,.12],[1.351,-3.94,.1],[1.5,-3.84,.09],[1.576,-3.82,.08],[1.682,-3.71,.06],[1.854,-3.65,.03],[2.088,-3.7,.03],[2.287,-3.77,.03],[2.459,-3.93,.04],[2.617,-4.22,.06],[2.79,-4.46,.1],[2.914,-4.53,.12]];
const deep4: P[] = [[0,-4.53,.12],[.094,-4.38,.11],[.227,-4.24,.1],[.359,-4.19,.08],[.465,-4.24,.08],[.597,-4.38,.09],[.716,-4.44,.1],[.835,-4.43,.11],[.914,-4.32,.15],[.981,-4.25,.18],[1,-4.25,.18],[1.06,-4.22,.17],[1.179,-4.08,.15],[1.285,-3.97,.13],[1.417,-3.91,.11],[1.5,-3.9,.11],[1.589,-4,.1],[1.682,-4.1,.1],[1.854,-4.1,.1],[2.022,-4.01,.1],[2.115,-3.99,.1],[2.287,-4.15,.1],[2.551,-4.3,.1],[2.75,-4.46,.11],[2.914,-4.53,.12],[2.988,-4.5,.11],[3.08,-4.35,.09],[3.213,-4.13,.08],[3.345,-4.04,.09],[3.451,-4.03,.1],[3.61,-4.08,.11],[3.78,-4.1,.12],[3.889,-4.07,.12],[3.995,-3.99,.12],[4.1,-3.9,.09],[4.22,-3.76,.06],[4.313,-3.67,.04],[4.392,-3.65,.04],[4.551,-3.71,.05],[4.683,-3.84,.08],[4.746,-3.84,.09],[4.842,-3.79,.09],[4.947,-3.84,.09],[5.08,-3.91,.08],[5.212,-4.01,.09],[5.344,-4.09,.11],[5.453,-4.1,.12],[5.577,-4.07,.12],[5.682,-3.95,.1],[5.788,-3.87,.07],[5.894,-3.73,.05],[6,-3.63,.04],[6.065,-3.53,.04],[6.159,-3.48,.04],[6.264,-3.42,.03],[6.419,-3.37,.03]];
const deep5: P[] = [[3.692,-3.79,.12],[3.78,-3.79,.12],[3.955,-3.8,.1],[4.061,-3.84,.08],[4.18,-3.96,.06],[4.286,-4.07,.05],[4.392,-4.11,.05],[4.551,-4.07,.07],[4.656,-3.94,.09],[4.746,-3.9,.09],[4.855,-4.01,.1],[4.947,-3.96,.09],[5.08,-3.9,.08],[5.186,-3.77,.09],[5.278,-3.79,.11],[5.453,-3.79,.12],[5.608,-3.79,.12],[5.714,-3.73,.12],[5.82,-3.6,.12],[5.915,-3.48,.12],[6.01,-3.46,.12],[6.067,-3.53,.1],[6.137,-3.68,.09],[6.222,-3.88,.1],[6.296,-4.02,.12],[6.419,-4.07,.13]];
const deep6: P[] = [[5.35,-3.9,.08],[5.453,-3.94,.1],[5.577,-3.88,.08],[5.682,-3.82,.07],[5.788,-3.8,.06],[5.905,-3.7,.05],[6,-3.65,.04],[6.065,-3.65,.04],[6.159,-3.62,.03],[6.264,-3.6,.03],[6.419,-3.59,.03]];

// pieces that run off the bottom and top of the window
const bottom1: P[] = [[0,-4.98,.02],[.227,-4.94,.02],[.425,-4.72,.02],[.623,-4.53,.03],[.822,-4.44,.03],[1,-4.43,.03],[1.152,-4.46,.04],[1.324,-4.52,.05],[1.5,-4.55,.05],[1.589,-4.58,.05],[1.708,-4.77,.07],[1.8,-4.88,.08],[1.854,-4.88,.08],[1.933,-5,.08],[2,-5.2,.08]];
const bottom2: P[] = [[0,-4.98,.02],[.227,-4.97,.02],[.425,-4.76,.02],[.623,-4.55,.03],[.822,-4.44,.04],[1,-4.43,.05],[1.152,-4.49,.08],[1.324,-4.61,.1],[1.5,-4.64,.1],[1.589,-4.69,.1],[1.708,-4.88,.1],[1.814,-4.98,.11],[1.854,-5,.11],[1.92,-5.2,.11]];
const bottom3: P[] = [[1,-4.43,.06],[1.1,-4.5,.08],[1.219,-4.75,.1],[1.351,-5,.1],[1.45,-5.2,.1]];
const bottom4: P[] = [[1,-4.43,.05],[1.1,-4.47,.07],[1.232,-4.69,.1],[1.404,-5,.1],[1.5,-5.15,.1]];
const bottom5: P[] = [[2.16,-5.2,.02],[2.26,-5,.02],[2.353,-4.89,.02],[2.485,-4.85,.02],[2.618,-4.91,.03],[2.75,-4.96,.03],[2.915,-4.99,.04],[2.988,-5,.04],[3.08,-5.1,.04]];
const bottom6: P[] = [[2.26,-5.2,.03],[2.34,-5,.03],[2.446,-4.88,.03],[2.618,-4.92,.03],[2.75,-4.98,.04],[2.915,-5.02,.04]];
const bottom7: P[] = [[4.16,-5.2,.05],[4.26,-5,.05],[4.394,-4.87,.06],[4.498,-4.74,.07],[4.617,-4.58,.07],[4.746,-4.55,.07],[4.855,-4.66,.07],[4.948,-4.83,.07],[5.06,-5,.07],[5.15,-5.2,.07]];
const bottom8: P[] = [[4.3,-5.2,.1],[4.365,-5,.1],[4.394,-4.98,.1],[4.498,-4.84,.11],[4.617,-4.69,.11],[4.746,-4.64,.11],[4.855,-4.77,.11],[4.974,-5,.11],[5.05,-5.2,.11]];
const bottom9: P[] = [[5.85,-5.15,.06],[5.936,-5,.06],[6.068,-4.87,.07],[6.159,-4.7,.07],[6.264,-4.53,.07],[6.37,-4.44,.05],[6.419,-4.43,.04]];
const bottom10: P[] = [[5.95,-5.2,.1],[6.042,-5,.1],[6.068,-4.97,.1],[6.159,-4.78,.1],[6.264,-4.57,.1],[6.37,-4.45,.07],[6.419,-4.43,.05]];
const bottom11: P[] = [[6.03,-5.2,.12],[6.106,-5,.12],[6.159,-4.84,.12],[6.264,-4.61,.11],[6.37,-4.46,.08],[6.419,-4.43,.06]];
const ceil1: P[] = [[3.5,5.2,.1],[3.586,5,.1],[3.692,4.82,.1],[3.78,4.77,.09],[3.836,4.9,.1],[3.896,5,.1],[3.98,5.2,.1]];
const ceil2: P[] = [[3.62,5.2,.1],[3.692,5,.1],[3.782,4.95,.09],[3.837,5,.1],[3.92,5.2,.1]];
const ceil3: P[] = [[5.25,5.2,.1],[5.338,5,.1],[5.41,4.84,.1],[5.453,4.77,.09],[5.5,4.84,.1],[5.569,5,.1],[5.65,5.2,.1]];
const ceil4: P[] = [[5.33,5.2,.1],[5.397,5,.1],[5.453,4.95,.09],[5.51,5,.1],[5.58,5.2,.1]];

const bands: P[][] = [
  bottom1, bottom2, bottom3, bottom4, bottom5, bottom6, bottom7, bottom8, bottom9, bottom10, bottom11,
  deep1, deep2, deep3, deep4, deep5, deep6,
  val6, val5, val4, val3, val7, val8, val2, val1,
  edge2, edge1, edge3, hump1, low3, low2, low1, fall3,
  flat2, flat1, mid2, mid1, fall2, fall1, top2, top1,
  ceil1, ceil2, ceil3, ceil4,
];

const x = d3.scaleLinear().domain([0, 6.419]).range([MARGIN.left, MARGIN.right]);
const y = d3.scaleLinear().domain([-5, 5]).range([MARGIN.bottom, MARGIN.top]);
const barY = d3.scaleLinear().domain([0, 1]).range([MARGIN.bottom, MARGIN.top]);

// matplotlib jet
const jetR = d3.scaleLinear().domain([0, 0.35, 0.66, 0.89, 1]).range([0, 0, 1, 1, 0.5]).clamp(true);
const jetG = d3.scaleLinear().domain([0, 0.125, 0.375, 0.64, 0.91, 1]).range([0, 0, 1, 1, 0, 0]).clamp(true);
const jetB = d3.scaleLinear().domain([0, 0.11, 0.34, 0.65, 1]).range([0.5, 1, 1, 0, 0]).clamp(true);
function jet(t: number): string {
  return d3.rgb(jetR(t) * 255, jetG(t) * 255, jetB(t) * 255).formatHex();
}

const line = d3
  .line<P>()
  .x((d) => x(d[0]))
  .y((d) => y(d[1]))
  .curve(d3.curveCatmullRom.alpha(0.5));

const barSteps = d3.range(0, 1, 1 / 256);

export default function App() {
  const textStyle = { fontFamily: FONT, fontSize: 89, fill: "#000" };
  return (
    <svg
      width={WIDTH}
      height={HEIGHT}
      viewBox={`0 0 ${WIDTH} ${HEIGHT}`}
      style={{ position: "absolute", left: 0, top: 0, background: "#fff" }}
    >
      <defs>
        <clipPath id="plot">
          <rect x={MARGIN.left} y={MARGIN.top} width={MARGIN.right - MARGIN.left} height={MARGIN.bottom - MARGIN.top} />
        </clipPath>
        {bands.map((band, i) => {
          const x0 = x(band[0][0]);
          const x1 = x(band[band.length - 1][0]);
          return (
            <linearGradient key={i} id={`band${i}`} gradientUnits="userSpaceOnUse" x1={x0} x2={x1} y1={0} y2={0}>
              {band.map((d, j) => (
                <stop key={j} offset={(x(d[0]) - x0) / (x1 - x0)} stopColor={jet(d[2])} />
              ))}
            </linearGradient>
          );
        })}
      </defs>

      <g clipPath="url(#plot)">
        {bands.map((band, i) => (
          <g key={i} fill="none" strokeLinejoin="round">
            <path d={line(band) || ""} stroke="#7f7f7f" strokeWidth={12.5} />
            <path d={line(band) || ""} stroke={`url(#band${i})`} strokeWidth={10} />
          </g>
        ))}
      </g>

      {/* high symmetry lines */}
      {symK.slice(1, -1).map((k, i) => (
        <line key={i} x1={x(k)} x2={x(k)} y1={MARGIN.top} y2={MARGIN.bottom} stroke="#000" strokeOpacity={0.45} strokeWidth={3} />
      ))}

      {/* frame */}
      <rect
        x={MARGIN.left}
        y={MARGIN.top}
        width={MARGIN.right - MARGIN.left}
        height={MARGIN.bottom - MARGIN.top}
        fill="none"
        stroke="#000"
        strokeWidth={4}
      />

      {/* y axis */}
      {energyTicks.map((t) => {
        const major = t % 2 === 0;
        return (
          <g key={t}>
            <line
              x1={MARGIN.left - (major ? 15 : 8)}
              x2={MARGIN.left}
              y1={y(t)}
              y2={y(t)}
              stroke="#000"
              strokeWidth={major ? 4 : 3}
            />
            {major && (
              <text x={201} y={y(t) + 30} textAnchor="end" style={textStyle}>
                {t}
              </text>
            )}
          </g>
        );
      })}
      <text transform={`translate(85,${y(0)}) rotate(-90)`} textAnchor="middle" style={textStyle}>
        Energy [eV]
      </text>

      {/* x axis */}
      {symK.map((k, i) => (
        <g key={i}>
          <line x1={x(k)} x2={x(k)} y1={MARGIN.bottom} y2={MARGIN.bottom + 18} stroke="#000" strokeWidth={4} />
          <text x={x(k)} y={2118} textAnchor="middle" style={textStyle}>
            {symLabels[i]}
          </text>
        </g>
      ))}

      {/* colour bar */}
      {barSteps.map((t) => (
        <rect
          key={t}
          x={3341}
          y={barY(t + 1 / 256)}
          width={93}
          height={barY(t) - barY(t + 1 / 256) + 0.6}
          fill={jet(t + 1 / 512)}
        />
      ))}
      <rect x={3341} y={MARGIN.top} width={93} height={MARGIN.bottom - MARGIN.top} fill="none" stroke="#000" strokeWidth={4} />
      {colorTicks.map((t) => (
        <g key={t}>
          <line x1={3434} x2={3452} y1={barY(t)} y2={barY(t)} stroke="#000" strokeWidth={4} />
          <text x={3468} y={barY(t) + 31} style={textStyle}>
            {t.toFixed(1)}
          </text>
        </g>
      ))}
    </svg>
  );
}
